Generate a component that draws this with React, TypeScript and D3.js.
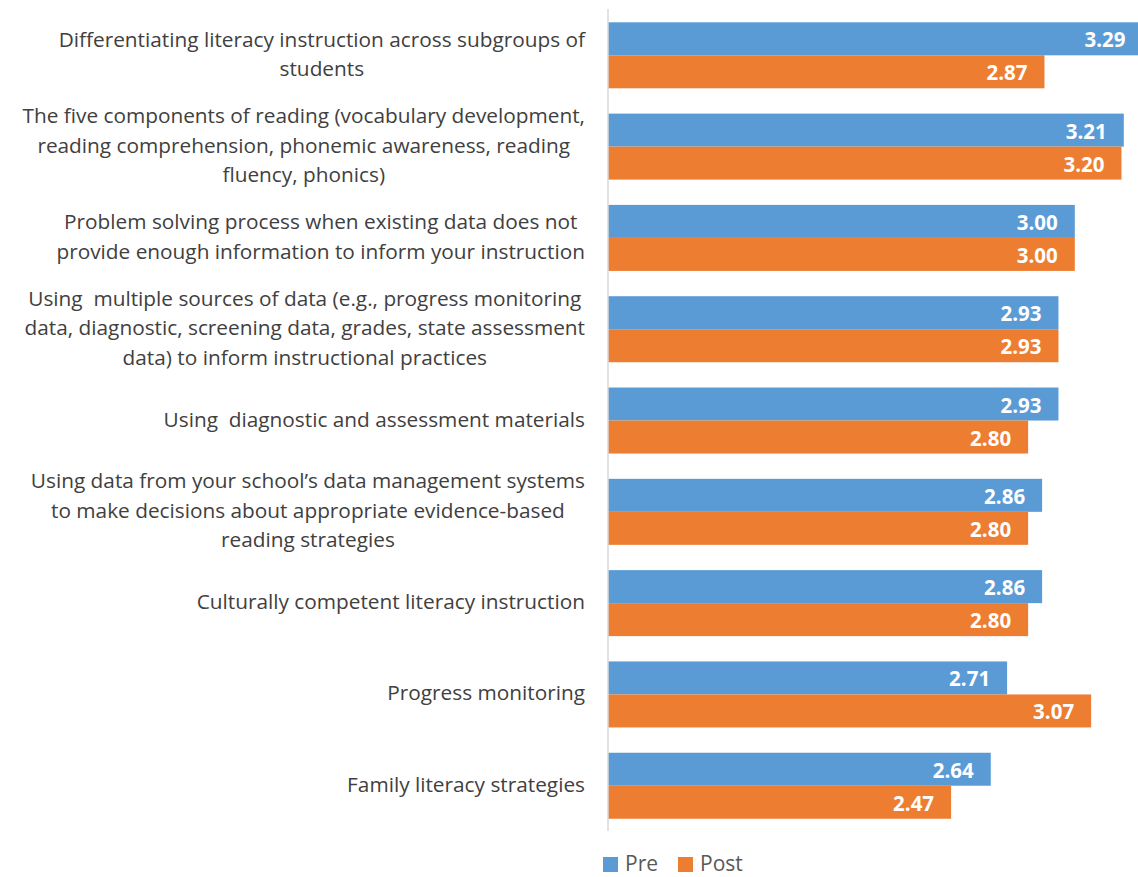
import React, { useMemo } from "react";
import * as d3 from "d3";

const categories: string[][] = [
  ["Differentiating literacy instruction across subgroups of", "students"],
  ["The five components of reading (vocabulary development,", "reading comprehension, phonemic awareness, reading", "fluency, phonics)"],
  ["Problem solving process when existing data does not", "provide enough information to inform your instruction"],
  ["Using  multiple sources of data (e.g., progress monitoring", "data, diagnostic, screening data, grades, state assessment", "data) to inform instructional practices"],
  ["Using  diagnostic and assessment materials"],
  ["Using data from your school\u2019s data management systems", "to make decisions about appropriate evidence-based", "reading strategies"],
  ["Culturally competent literacy instruction"],
  ["Progress monitoring"],
  ["Family literacy strategies"],
];
const seriesNames = ["Pre", "Post"];
const preValues = [3.29, 3.21, 3.0, 2.93, 2.93, 2.86, 2.86, 2.71, 2.64];
const postValues = [2.87, 3.2, 3.0, 2.93, 2.8, 2.8, 2.8, 3.07, 2.47];
const colors = ["#5B9BD5", "#ED7D31"];

const W = 1138;
const H = 877;
const FONT = "'Open Sans', sans-serif";
const LABEL_SIZE = 20.8;

export default function App() {
  const ids = categories.map((_, i) => String(i));
  const x = d3.scaleLinear().domain([1, 3.5]).range([608, 1191.5]);
  const y = d3.scaleBand<string>().domain(ids).range([9.65, 831.4]).paddingInner(0.277).paddingOuter(0.1385);
  const ys = d3.scaleBand<string>().domain(seriesNames).range([0, y.bandwidth()]);
  const values = [preValues, postValues];

  const widths = useMemo(() => {
    const c = document.createElement("canvas").getContext("2d")!;
    c.font = `${LABEL_SIZE}px ${FONT}`;
    return categories.map((lines) => Math.max(...lines.map((l) => c.measureText(l).width)));
  }, []);

  return (
    <svg width={W} height={H} style={{ position: "absolute", left: 0, top: 0, background: "#fff" }} fontFamily={FONT}>
      {categories.map((lines, i) => {
        const cy = (y(ids[i]) as number) + y.bandwidth() / 2 - 2;
        const cx = 585 - widths[i] / 2;
        return (
          <text key={"l" + i} fontSize={LABEL_SIZE} fill="#404040" textAnchor="middle" style={{ whiteSpace: "pre" }}>
            {lines.map((l, j) => (
              <tspan key={j} x={cx} y={cy + (j - (lines.length - 1) / 2) * 29.5} dominantBaseline="central">
                {l}
              </tspan>
            ))}
          </text>
        );
      })}
      {seriesNames.map((s, si) =>
        values[si].map((v, i) => {
          const top = (y(ids[i]) as number) + (ys(s) as number);
          return (
            <g key={s + i}>
              <rect x={x(1)} y={top} width={x(v) - x(1)} height={ys.bandwidth()} fill={colors[si]} />
              <text x={x(v) - 17} y={top + ys.bandwidth() / 2 + 8.5} textAnchor="end" fill="#fff" fontWeight="bold" fontSize={20.5}>
                {v.toFixed(2)}
              </text>
            </g>
          );
        })
      )}
      <line x1={608} x2={608} y1={9} y2={831} stroke="#D9D9D9" strokeWidth={1.5} />
      {seriesNames.map((s, si) => {
        const lx = [603, 678][si];
        return (
          <g key={"lg" + s}>
            <rect x={lx} y={857} width={15} height={15} fill={colors[si]} />
            <text x={lx + 22} y={871} fontSize={21} fill="#595959">
              {s}
            </text>
          </g>
        );
      })}
    </svg>
  );
}
